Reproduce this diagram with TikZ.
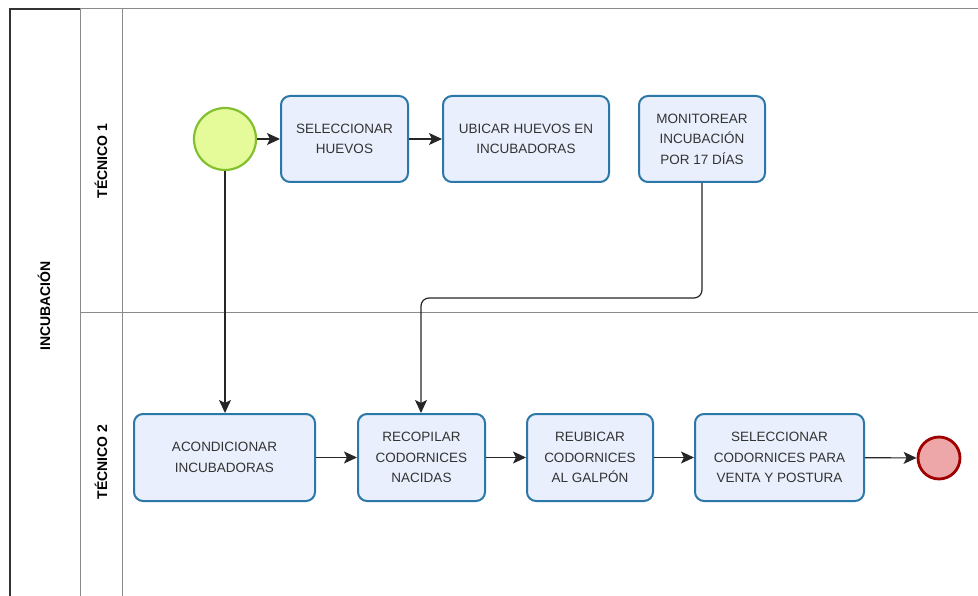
\documentclass[tikz,border=0pt]{standalone}
\usepackage{fontspec}
\setmainfont{Liberation Sans}
\usetikzlibrary{arrows.meta}
\definecolor{taskfill}{HTML}{E9EFFC}
\definecolor{taskdraw}{HTML}{2A77A8}
\definecolor{startfill}{HTML}{E5FB9A}
\definecolor{startdraw}{HTML}{82C02E}
\definecolor{endfill}{HTML}{EEA7A9}
\definecolor{enddraw}{HTML}{A00000}
\definecolor{lanegray}{HTML}{8A8A8A}
\definecolor{txt}{HTML}{333333}
\tikzset{
  task/.style={draw=taskdraw, fill=taskfill, line width=2pt, rounded corners=9pt,
    align=center, text=txt, font=\fontsize{13.5}{20.5}\selectfont, inner sep=0pt},
  startev/.style={circle, draw=startdraw, fill=startfill, line width=2.2pt, minimum size=62pt, inner sep=0pt},
  endev/.style={circle, draw=enddraw, fill=endfill, line width=2.8pt, minimum size=42pt, inner sep=0pt},
  flow/.style={draw=black!85, line width=1.2pt, -{Stealth[length=13pt,width=12pt,inset=3pt]}},
  lanelbl/.style={rotate=90, font=\bfseries\fontsize{14}{16}\selectfont, text=black},
}
\begin{document}
\begin{tikzpicture}[x=1pt,y=-1pt]
\useasboundingbox (0,0) rectangle (978,596);
\fill[white] (0,0) rectangle (978,596);
% pool and lanes
\draw[lanegray, line width=1pt] (80,9) -- (978,9);
\draw[lanegray, line width=1pt] (80,9) -- (80,596);
\draw[lanegray, line width=1pt] (122,9) -- (122,596);
\draw[lanegray, line width=1pt] (80,313) -- (978,313);
\draw[black!80, line width=1.4pt] (10,596) -- (10,9) -- (80,9);
\node[lanelbl] (pool) at (44,306) {INCUBACIÓN};
\node[lanelbl] (lane1) at (101,161) {TÉCNICO 1};
\node[lanelbl] (lane2) at (101,462) {TÉCNICO 2};
% events and tasks
\node[startev] (start) at (225,139) {};
\node[task, minimum width=127pt, minimum height=86pt] (t1) at (344.5,139) {SELECCIONAR\\HUEVOS};
\node[task, minimum width=166pt, minimum height=86pt] (t2) at (526,139) {UBICAR HUEVOS EN\\INCUBADORAS};
\node[task, minimum width=126pt, minimum height=86pt] (t3) at (702,139) {MONITOREAR\\INCUBACIÓN\\POR 17 DÍAS};
\node[task, minimum width=181pt, minimum height=87pt] (t4) at (224.5,457.5) {ACONDICIONAR\\INCUBADORAS};
\node[task, minimum width=127pt, minimum height=87pt] (t5) at (421.5,457.5) {RECOPILAR\\CODORNICES\\NACIDAS};
\node[task, minimum width=126pt, minimum height=87pt] (t6) at (590,457.5) {REUBICAR\\CODORNICES\\AL GALPÓN};
\node[task, minimum width=169pt, minimum height=87pt] (t7) at (779.5,457.5) {SELECCIONAR\\CODORNICES PARA\\VENTA Y POSTURA};
\node[endev] (end) at (939,458) {};
% flows
\draw[flow] (start) -- (t1);
\draw[flow] (t1) -- (t2);
\draw[flow] (start.south) -- (start.south |- t4.north);
\coordinate (c1) at (702,298);
\coordinate (c2) at (421,298);
\draw[flow, rounded corners=8pt] (t3.south) -- (c1) -- (c2) -- (t5.north -| c2);
\draw[flow] (t4) -- (t5);
\draw[flow] (t5) -- (t6);
\draw[flow] (t6) -- (t7);
\draw[flow] (t7) -- (end);
\end{tikzpicture}
\end{document}
